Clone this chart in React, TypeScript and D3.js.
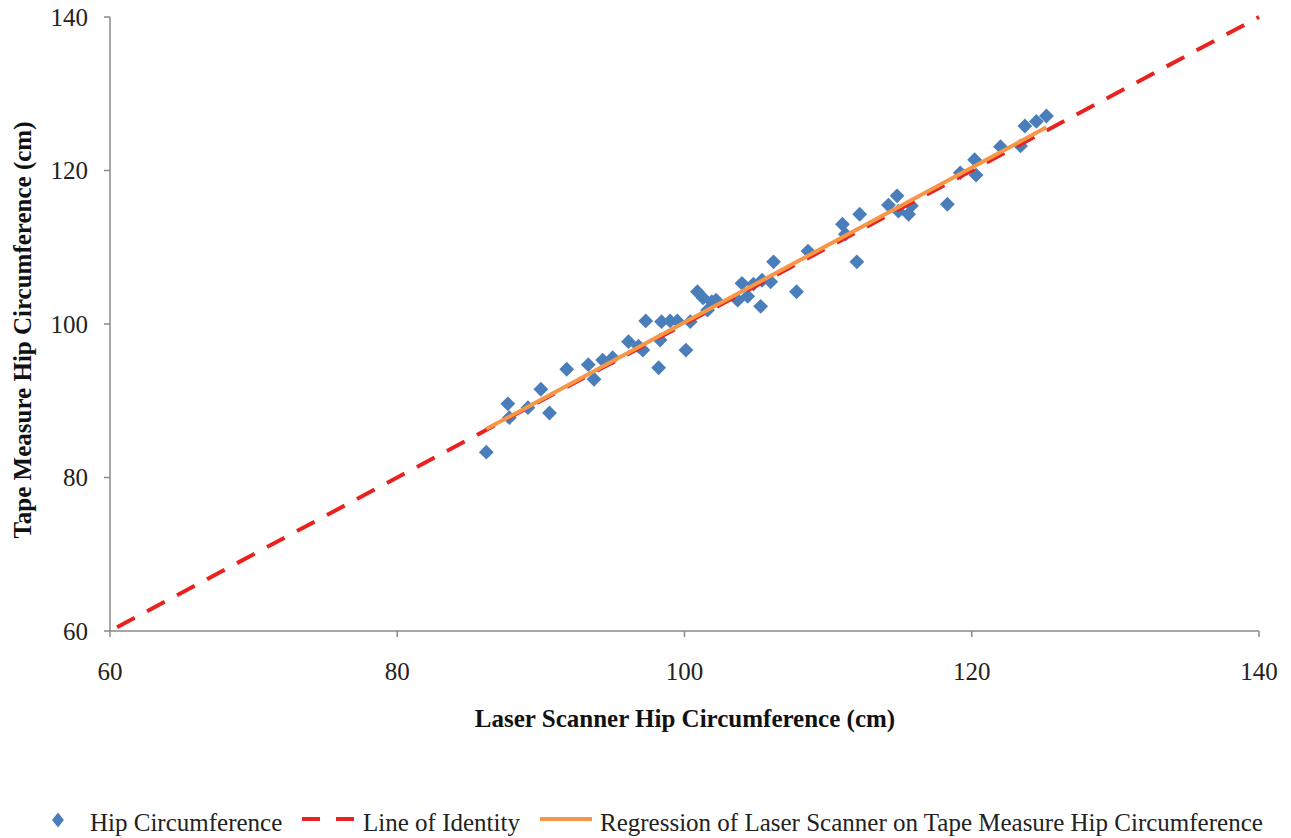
import React from 'react';
import * as d3 from 'd3';

// laser scanner (x) vs tape measure (y), cm
const laserCm = [
  86.2, 87.7, 87.8, 89.1, 90.0, 90.6, 91.8, 93.3, 93.7, 94.3, 95.0, 96.1, 96.8, 97.1,
  97.3, 98.2, 98.3, 98.4, 99.0, 99.5, 100.1, 100.4, 100.9, 101.3, 101.6, 101.9, 102.2,
  103.7, 104.0, 104.4, 104.8, 105.3, 105.4, 106.0, 106.2, 107.8, 108.6, 111.0, 111.2,
  112.0, 112.2, 114.2, 114.8, 114.9, 115.6, 115.8, 118.3, 119.2, 120.2, 120.3, 122.0,
  123.4, 123.7, 124.5, 125.2,
];
const tapeCm = [
  83.3, 89.6, 87.8, 89.1, 91.5, 88.4, 94.1, 94.7, 92.8, 95.3, 95.6, 97.7, 97.1, 96.6,
  100.4, 94.3, 97.9, 100.3, 100.4, 100.4, 96.6, 100.3, 104.2, 103.4, 101.8, 102.9, 103.1,
  103.1, 105.3, 103.6, 105.2, 102.3, 105.7, 105.5, 108.1, 104.2, 109.5, 113.0, 111.7,
  108.1, 114.3, 115.5, 116.7, 114.7, 114.3, 115.4, 115.6, 119.7, 121.4, 119.4, 123.1,
  123.2, 125.8, 126.4, 127.1,
];
const ticks = [60, 80, 100, 120, 140];
const legendLabels = [
  'Hip Circumference',
  'Line of Identity',
  'Regression of Laser Scanner on Tape Measure Hip Circumference',
];

const W = 1291;
const H = 838;
const left = 110;
const right = 1259;
const top = 17;
const bottom = 631;

const BLUE = '#4a7ebb';
const RED = '#e8231f';
const ORANGE = '#f79646';
const AXIS = '#8a8a8a';
const FONT = '"Liberation Serif", "Times New Roman", serif';

export default function App() {
  const x = d3.scaleLinear().domain([60, 140]).range([left, right]);
  const y = d3.scaleLinear().domain([60, 140]).range([bottom, top]);

  const pts = laserCm.map((v, i) => [v, tapeCm[i]] as [number, number]);

  // least squares fit
  const mx = d3.mean(laserCm) as number;
  const my = d3.mean(tapeCm) as number;
  const sxy = d3.sum(pts, (p) => (p[0] - mx) * (p[1] - my));
  const sxx = d3.sum(pts, (p) => (p[0] - mx) ** 2);
  const slope = sxy / sxx;
  const icpt = my - slope * mx;
  const [x0, x1] = d3.extent(laserCm) as [number, number];
  const regLine: [number, number][] = [
    [x0, icpt + slope * x0],
    [x1, icpt + slope * x1],
  ];
  const idLine: [number, number][] = [
    [60, 60],
    [140, 140],
  ];

  const line = d3
    .line<[number, number]>()
    .x((d) => x(d[0]))
    .y((d) => y(d[1]));

  const diamond = d3.symbol(d3.symbolDiamond2, 140)() as string;
  const legendDiamond = d3.symbol(d3.symbolDiamond2, 110)() as string;

  const legY = 822;

  return (
    <svg width={W} height={H} style={{ position: 'absolute', left: 0, top: 0, background: '#fff' }}>
      {/* axes */}
      <line x1={left} x2={left} y1={top} y2={bottom} stroke={AXIS} strokeWidth={1.5} />
      <line x1={left} x2={right} y1={bottom} y2={bottom} stroke={AXIS} strokeWidth={1.5} />
      {ticks.map((t) => (
        <g key={'y' + t}>
          <line x1={left - 6} x2={left} y1={y(t)} y2={y(t)} stroke={AXIS} strokeWidth={1.5} />
          <text
            x={left - 22}
            y={y(t)}
            dy="0.35em"
            textAnchor="end"
            fontFamily={FONT}
            fontSize={25}
            fill="#222"
          >
            {t}
          </text>
        </g>
      ))}
      {ticks.map((t) => (
        <g key={'x' + t}>
          <line x1={x(t)} x2={x(t)} y1={bottom} y2={bottom + 6} stroke={AXIS} strokeWidth={1.5} />
          <text
            x={x(t)}
            y={bottom + 40}
            dy="0.35em"
            textAnchor="middle"
            fontFamily={FONT}
            fontSize={25}
            fill="#222"
          >
            {t}
          </text>
        </g>
      ))}

      {/* titles */}
      <text
        x={685}
        y={718}
        dy="0.35em"
        textAnchor="middle"
        fontFamily={FONT}
        fontSize={25}
        fontWeight="bold"
        fill="#111"
      >
        Laser Scanner Hip Circumference (cm)
      </text>
      <text
        transform={`translate(22, ${330}) rotate(-90)`}
        dy="0.35em"
        textAnchor="middle"
        fontFamily={FONT}
        fontSize={25}
        fontWeight="bold"
        fill="#111"
      >
        Tape Measure Hip Circumference (cm)
      </text>

      {/* points */}
      {pts.map((p, i) => (
        <path key={i} d={diamond} transform={`translate(${x(p[0])},${y(p[1])})`} fill={BLUE} />
      ))}

      {/* identity + regression */}
      <path
        d={line(idLine) as string}
        fill="none"
        stroke={RED}
        strokeWidth={4}
        strokeDasharray="20 14"
        strokeDashoffset={-8}
      />
      <path d={line(regLine) as string} fill="none" stroke={ORANGE} strokeWidth={4} />

      {/* legend */}
      <g fontFamily={FONT} fontSize={25} fill="#222">
        <path d={legendDiamond} transform={`translate(58, ${legY - 2}) scale(0.9,1.15)`} fill={BLUE} />
        <text x={90} y={legY} dy="0.35em">
          {legendLabels[0]}
        </text>
        <line x1={302} x2={320} y1={legY - 3} y2={legY - 3} stroke={RED} strokeWidth={4} />
        <line x1={336} x2={354} y1={legY - 3} y2={legY - 3} stroke={RED} strokeWidth={4} />
        <text x={363} y={legY} dy="0.35em">
          {legendLabels[1]}
        </text>
        <line x1={540} x2={592} y1={legY - 3} y2={legY - 3} stroke={ORANGE} strokeWidth={4} />
        <text x={600} y={legY} dy="0.35em">
          {legendLabels[2]}
        </text>
      </g>
    </svg>
  );
}
